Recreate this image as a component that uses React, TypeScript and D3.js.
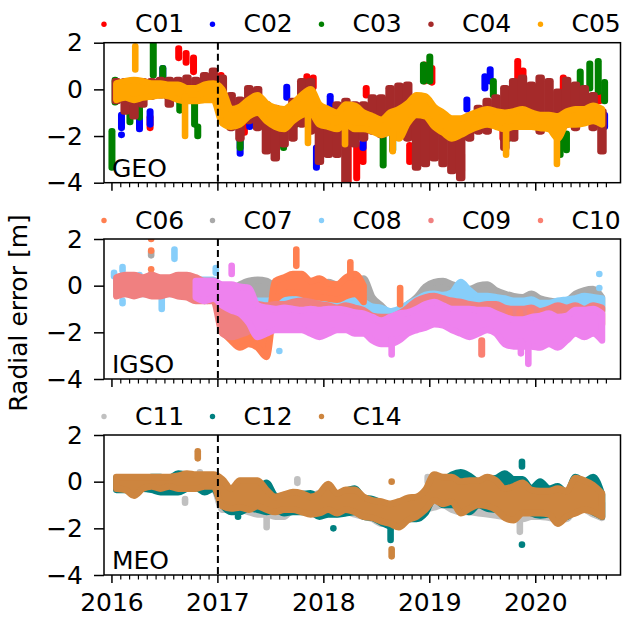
import React from "react";
import * as d3 from "d3";

// monthly bands are [lo, hi] per month starting Jan 2016 (+ start offset)
// extras are [year, lo, hi] clusters / outliers
const years = [2016, 2017, 2018, 2019, 2020];
const yTicks = [-4, -2, 0, 2];
const switchYear = 2017.0;

// ---------- GEO ----------
const c01Extra = [
  [2016.36, -1.65, -1.2], [2016.63, 1.35, 1.75], [2016.7, 1.15, 1.55], [2016.77, 0.75, 1.35],
  [2017.03, 0.2, 0.6], [2017.25, -1.85, -1.4], [2017.84, 0.05, 0.55], [2017.9, 0.1, 0.5],
  [2018.23, -3.95, -2.1], [2018.31, -3.8, -2.35], [2018.37, -3.1, -2.1], [2018.4, -0.25, 0.05],
  [2018.81, -3.1, -2.4], [2018.95, 0.35, 1.05], [2019.02, 0.3, 0.9], [2019.22, -3.25, -2.5],
  [2019.3, -3.5, -2.8], [2019.69, -2.1, -1.8], [2019.83, 0.35, 1.2], [2019.88, 0.0, 0.8],
  [2020.26, 0.05, 0.5], [2020.6, -0.5, -0.25],
];
const c02Extra = [
  [2016.09, -1.65, -1.1], [2016.09, -1.95, -1.95], [2016.26, -1.7, -1.0], [2016.36, -1.5, -0.95],
  [2016.48, 0.55, 0.9], [2016.52, -0.3, 0.1], [2016.96, 0.35, 0.75], [2017.21, -2.75, -1.5],
  [2017.3, -1.6, -1.2], [2017.65, -0.35, 0.1], [2017.93, -3.35, -2.5], [2018.06, -0.8, -0.3],
  [2018.37, -2.5, -2.0], [2019.35, -0.85, -0.45], [2019.52, 0.05, 0.55], [2019.57, 0.35, 0.85],
  [2019.85, -0.2, 0.1], [2020.23, -1.1, -0.8], [2020.65, -1.6, -1.1],
];
const c03Extra = [
  [2016.0, -3.35, -1.8], [2016.03, -0.55, 0.4], [2016.17, -1.4, -0.8], [2016.26, -1.2, -0.6],
  [2016.39, 0.6, 2.0], [2016.48, 0.2, 0.9], [2016.64, -0.9, -0.5], [2016.78, -1.5, -0.65],
  [2016.81, -2.0, -1.6], [2017.21, -2.5, -1.95], [2017.62, -2.5, -1.25], [2017.74, -1.5, -0.8],
  [2018.56, -3.25, -1.5], [2018.65, -2.6, -1.8], [2018.94, 0.35, 1.05], [2019.0, 0.35, 1.4],
  [2019.6, -0.25, 0.35], [2019.75, -2.1, -1.5], [2020.23, -2.8, -1.95], [2020.29, -2.6, -1.9],
  [2020.42, -0.1, 0.75], [2020.51, 0.05, 1.1], [2020.59, -0.1, 1.2], [2020.65, -0.5, 0.3],
];
const c04Band = [
  [-0.5, 0.35], [-0.95, 0.35], [-1.15, 0.25], [-0.65, 0.35], [-0.3, 0.35], [-0.25, 0.4],
  [-0.65, 0.4], [-0.15, 0.4], [-0.25, 0.5], [-0.15, 0.4], [-0.1, 0.6], [-0.1, 0.8],
  [-1.1, 0.5], [-1.65, -0.25], [-2.1, -0.45], [-1.35, 0.05], [-1.65, 0.0], [-2.65, -0.65],
  [-2.95, -0.8], [-2.35, -0.95], [-2.1, -0.5], [-1.5, 0.35], [-1.8, 0.35], [-3.1, -1.25],
  [-2.8, -0.95], [-2.8, -0.65], [-3.95, -0.5], [-2.35, -0.65], [-2.1, -0.65], [-1.8, -0.35],
  [-1.95, -0.35], [-1.5, 0.05], [-1.95, 0.15], [-2.1, 0.2], [-3.35, -0.95], [-3.2, -1.25],
  [-2.95, -1.1], [-3.2, -1.4], [-3.5, -1.5], [-3.8, -1.5], [-2.1, -1.25], [-1.8, -0.8],
  [-1.8, -0.5], [-1.5, -0.35], [-2.5, 0.05], [-2.1, 0.35], [-1.5, 0.5], [-1.35, 0.2],
  [-1.8, 0.5], [-1.35, 0.35], [-1.65, -0.1], [-1.5, 0.4], [-1.65, 0.2], [-1.35, 0.05],
  [-1.65, -0.25], [-2.65, -0.95],
];
const c05Band = [
  [-0.45, 0.25], [-0.35, 0.35], [-0.45, 0.4], [-0.35, 0.35], [-0.3, 0.25], [-0.25, 0.25],
  [-0.3, 0.2], [-0.45, 0.2], [-0.5, 0.05], [-0.5, 0.05], [-0.45, 0.2], [-0.45, 0.25],
  [-1.45, 0.0], [-1.6, -0.85], [-1.5, -0.75], [-1.15, -0.45], [-1.0, -0.25], [-1.35, -0.6],
  [-1.6, -0.8], [-1.7, -0.85], [-1.35, -0.6], [-1.1, -0.25], [-1.0, 0.0], [-1.5, -0.65],
  [-1.6, -0.85], [-1.7, -1.0], [-1.5, -0.65], [-1.7, -0.7], [-1.7, -1.0], [-1.8, -1.15],
  [-1.95, -1.3], [-1.85, -1.0], [-2.1, -0.85], [-1.45, -0.6], [-1.1, -0.25], [-1.15, -0.3],
  [-1.6, -0.75], [-1.85, -1.0], [-2.1, -1.25], [-1.95, -1.25], [-1.75, -1.1], [-1.6, -0.95],
  [-1.5, -0.85], [-1.6, -0.95], [-1.7, -1.0], [-1.6, -0.95], [-1.6, -0.85], [-1.6, -1.0],
  [-1.65, -1.1], [-1.7, -1.1], [-2.1, -1.15], [-1.5, -0.95], [-1.5, -0.85], [-1.45, -0.85],
  [-1.35, -0.7], [-1.5, -0.85],
];
const c05Extra = [
  [2016.22, 0.85, 1.85], [2016.69, -2.0, -0.3], [2017.85, -2.3, -1.0], [2018.2, -2.35, -1.5],
  [2018.65, -2.65, -1.8], [2019.72, -2.8, -1.6], [2020.2, -3.2, -2.0],
];

// ---------- IGSO ----------
const c06Band = [
  [-1.95, -1.05], [-2.35, -1.5], [-2.65, -1.8], [-2.5, -1.95], [-2.65, -1.95], [-3.05, -2.05],
  [-0.65, 0.2], [-0.35, 0.35], [-0.3, 0.5], [-0.35, 0.5], [-0.5, 0.2], [-0.5, 0.3],
  [-0.55, 0.1], [-0.6, 0.05], [-0.45, 0.35], [-0.35, 0.5], [-0.7, 0.0],
];
const c06Extra = [
  [2016.37, 0.7, 0.7], [2016.37, 1.5, 1.5], [2016.37, 2.0, 2.0], [2017.74, 0.85, 1.55],
  [2018.25, 0.35, 1.0], [2018.72, -0.8, -0.1],
];
const c07Band = [
  [-0.3, 0.15], [-0.3, 0.15], [-0.3, 0.15], [-0.3, 0.15], [-0.3, 0.15], [-0.3, 0.15],
  [-0.3, 0.15], [-0.3, 0.15], [-0.35, 0.15], [-0.5, 0.1], [-0.65, 0.1], [-0.5, 0.1],
  [-0.65, -0.05], [-0.7, -0.15], [-0.65, 0.05], [-0.5, 0.2], [-0.5, 0.25], [-0.65, 0.2],
  [-0.95, -0.05], [-0.95, -0.3], [-1.0, -0.35], [-0.95, -0.2], [-0.85, -0.15], [-0.85, -0.05],
  [-0.65, 0.15], [-0.8, 0.05], [-0.8, 0.05], [-0.65, 0.2], [-0.65, 0.3], [-1.2, -0.5],
  [-1.5, -0.85], [-1.65, -1.15], [-1.6, -1.05], [-1.35, -0.8], [-1.1, -0.5], [-0.8, -0.05],
  [-0.65, 0.15], [-0.55, 0.2], [-0.65, 0.05], [-0.7, -0.05], [-0.8, -0.15], [-0.65, 0.0],
  [-0.65, 0.05], [-0.8, -0.2], [-0.95, -0.35], [-1.05, -0.45], [-1.15, -0.5], [-0.95, -0.35],
  [-1.15, -0.55], [-1.2, -0.65], [-1.3, -0.7], [-1.2, -0.65], [-1.05, -0.35], [-0.85, -0.2],
  [-0.85, -0.15], [-1.05, -0.5],
];
const c07Extra = [[2016.37, 1.3, 1.45], [2016.37, 0.35, 0.5], [2016.9, -0.65, -0.3]];
const c08Band = [
  [-0.35, 0.25], [-0.35, 0.25], [-0.35, 0.25], [-0.35, 0.25], [-0.35, 0.25], [-0.35, 0.25],
  [-0.35, 0.25], [-0.35, 0.25], [-0.35, 0.25], [-0.35, 0.25], [-0.35, 0.25], [-0.35, 0.25],
  [-1.0, -0.3], [-1.1, -0.4], [-1.1, -0.4], [-1.2, -0.6], [-1.2, -0.65], [-1.25, -0.65],
  [-1.2, -0.6], [-1.2, -0.6], [-1.1, -0.6], [-1.0, -0.5], [-1.0, -0.5], [-1.1, -0.55],
  [-1.1, -0.5], [-1.2, -0.6], [-1.2, -0.6], [-1.15, -0.6], [-1.25, -0.7], [-1.45, -0.9],
  [-1.65, -0.95], [-1.7, -1.1], [-1.6, -1.0], [-1.4, -0.8], [-1.2, -0.6], [-1.0, -0.4],
  [-0.9, -0.35], [-0.9, -0.4], [-0.9, -0.3], [-0.85, 0.15], [-0.9, -0.2], [-0.95, -0.45],
  [-0.9, -0.45], [-0.95, -0.5], [-1.1, -0.55], [-1.2, -0.65], [-1.1, -0.65], [-1.1, -0.6],
  [-1.2, -0.75], [-1.2, -0.75], [-1.2, -0.65], [-1.15, -0.6], [-1.1, -0.55], [-1.0, -0.45],
  [-1.0, -0.5], [-1.1, -0.55],
];
const c08Extra = [
  [2016.02, 0.4, 0.55], [2016.1, 0.65, 0.8], [2016.1, -0.75, -0.65], [2016.26, 0.3, 0.45],
  [2016.47, -1.0, -0.55], [2016.59, 1.15, 1.55], [2016.98, 0.55, 0.75], [2017.58, -2.8, -2.8],
  [2018.47, -2.2, -2.2], [2020.6, 0.5, 0.5], [2020.6, -0.1, -0.1],
];
const c09Band = [
  [-0.45, 0.35], [-0.35, 0.45], [-0.45, 0.45], [-0.35, 0.35], [-0.45, 0.45], [-0.45, 0.35],
  [-0.35, 0.35], [-0.45, 0.45], [-0.5, 0.45], [-0.65, 0.35], [-0.65, 0.2], [-0.65, 0.2],
  [-2.05, -0.5], [-2.2, -0.65], [-2.1, -0.8], [-1.95, -0.85], [-1.65, -0.8], [-1.6, -0.85],
  [-1.5, -0.8], [-1.45, -0.8], [-1.45, -0.7], [-1.3, -0.65], [-1.35, -0.7], [-1.45, -0.8],
  [-1.6, -0.85], [-1.65, -0.95], [-1.5, -0.85], [-1.65, -0.95], [-1.8, -1.05], [-2.05, -1.3],
  [-2.2, -1.35], [-2.35, -1.35], [-1.95, -1.2], [-1.65, -0.95], [-1.5, -0.65], [-1.35, -0.5],
  [-1.3, -0.45], [-1.35, -0.55], [-1.45, -0.65], [-1.55, -0.7], [-1.5, -0.8], [-1.55, -0.85],
  [-1.5, -0.8], [-1.65, -0.8], [-1.95, -0.95], [-2.05, -1.0], [-1.85, -1.0], [-1.8, -0.95],
  [-1.9, -1.1], [-1.85, -1.0], [-1.8, -0.85], [-2.05, -0.95], [-1.65, -0.85], [-1.9, -1.0],
  [-1.6, -0.85], [-1.65, -0.95],
];
const c10Extra = [
  [2019.49, -2.95, -2.35], [2019.75, -1.8, -1.1], [2019.85, -1.9, -1.15], [2019.95, -1.85, -1.1],
  [2020.05, -1.9, -1.2],
];
const c13Band = [
  [-0.5, 0.2], [-0.65, 0.2], [-0.55, 0.2], [-0.85, 0.05], [-1.05, 0.05], [-1.2, -0.05],
  [-1.6, -0.1], [-2.2, -0.85], [-2.05, -0.95], [-1.9, -1.0], [-1.9, -0.95], [-1.9, -1.0],
  [-1.9, -1.05], [-2.05, -1.0], [-2.2, -1.05], [-2.05, -1.0], [-1.9, -1.0], [-1.9, -1.05],
  [-2.05, -1.15], [-2.05, -1.2], [-2.35, -1.35], [-2.5, -1.5], [-2.5, -1.35], [-2.35, -1.2],
  [-2.05, -1.15], [-1.9, -1.0], [-1.8, -0.8], [-1.65, -0.7], [-1.7, -0.85], [-1.9, -1.0],
  [-2.05, -1.0], [-2.2, -1.0], [-2.05, -1.05], [-1.9, -1.05], [-2.05, -1.2], [-2.5, -1.35],
  [-2.6, -1.45], [-2.6, -1.45], [-2.6, -1.35], [-2.65, -1.3], [-2.5, -1.2], [-2.65, -1.35],
  [-2.35, -1.3], [-2.05, -1.05], [-2.2, -1.05], [-2.05, -1.0], [-2.35, -1.2],
];
const c13Extra = [[2017.13, 0.5, 0.85], [2018.64, -2.95, -2.3], [2019.93, -3.35, -2.5], [2019.86, -2.9, -2.4]];

// ---------- MEO ----------
const c11Band = [
  [-0.3, 0.1], [-0.3, 0.1], [-0.3, 0.1], [-0.3, 0.1], [-0.3, 0.1], [-0.3, 0.1],
  [-0.3, 0.1], [-0.3, 0.1], [-0.3, 0.1], [-0.3, 0.1], [-0.3, 0.1], [-0.3, 0.1],
  [-1.2, -0.3], [-1.2, -0.5], [-1.2, -0.5], [-1.3, -0.6], [-1.4, -0.8], [-1.4, -0.9],
  [-1.5, -0.8], [-1.5, -0.8], [-1.2, -0.5], [-1.2, -0.5], [-1.3, -0.6], [-1.3, -0.5],
  [-1.3, -0.5], [-1.4, -0.6], [-1.3, -0.6], [-1.4, -0.6], [-1.5, -0.7], [-1.6, -0.8],
  [-1.8, -1.0], [-1.8, -1.0], [-1.8, -1.0], [-1.5, -0.8], [-1.4, -0.7], [-1.2, -0.6],
  [-1.1, -0.5], [-1.0, -0.3], [-1.2, -0.4], [-1.3, -0.5], [-1.3, -0.5], [-1.35, -0.5],
  [-1.4, -0.6], [-1.45, -0.7], [-1.5, -0.8], [-1.6, -1.0], [-1.6, -0.9], [-1.5, -0.8],
  [-1.5, -0.8], [-1.55, -0.9], [-1.6, -0.9], [-1.6, -0.9], [-1.2, -0.6], [-1.2, -0.5],
  [-1.4, -0.7], [-1.55, -0.9],
];
const c11Extra = [
  [2016.69, -0.9, -0.75], [2016.83, 0.3, 0.4], [2017.46, -1.95, -1.3], [2017.75, -0.05, 0.1],
  [2018.98, 0.0, 0.2], [2019.85, -2.15, -1.5],
];
const c12Band = [
  [-0.35, 0.15], [-0.35, 0.15], [-0.4, 0.1], [-0.3, 0.1], [-0.35, 0.2], [-0.45, 0.2],
  [-0.45, 0.15], [-0.45, 0.35], [-0.3, 0.3], [-0.25, 0.25], [-0.45, 0.15], [-0.3, 0.25],
  [-1.0, 0.0], [-1.3, -0.5], [-1.3, -0.4], [-1.15, -0.3], [-1.2, -0.4], [-1.3, -0.05],
  [-1.2, -0.6], [-1.35, -0.7], [-1.3, -0.6], [-1.3, -0.55], [-1.3, -0.5], [-1.5, -0.7],
  [-1.4, -0.6], [-1.4, -0.6], [-1.35, -0.4], [-1.3, -0.3], [-1.5, -0.7], [-1.55, -0.75],
  [-1.75, -0.9], [-1.9, -1.0], [-1.7, -0.9], [-1.6, -0.75], [-1.6, -0.9], [-1.35, -0.5],
  [-0.7, 0.0], [-1.0, 0.05], [-1.0, 0.3], [-1.1, 0.4], [-1.3, 0.25], [-1.0, 0.0],
  [-1.15, 0.1], [-1.2, 0.15], [-1.4, 0.35], [-1.0, 0.1], [-0.95, 0.1], [-1.35, -0.3],
  [-1.45, 0.0], [-1.4, -0.3], [-1.35, -0.2], [-1.5, -0.5], [-1.2, 0.2], [-1.1, 0.0],
  [-1.3, 0.2], [-1.5, -0.55],
];
const c12Extra = [
  [2017.19, -1.5, -1.5], [2018.09, -2.0, -2.0], [2018.63, -2.5, -1.9], [2019.87, 0.65, 0.85],
  [2019.87, 0.0, 0.0], [2019.87, -2.7, -2.7],
];
const c14Band = [
  [-0.3, 0.2], [-0.35, 0.2], [-0.6, 0.2], [-0.3, 0.2], [-0.2, 0.2], [-0.3, 0.2],
  [-0.2, 0.2], [-0.3, 0.25], [-0.3, 0.35], [-0.3, 0.3], [-0.2, 0.3], [-0.2, 0.3],
  [-1.05, 0.1], [-1.15, -0.3], [-1.1, 0.05], [-1.2, 0.05], [-1.05, 0.05], [-1.2, -0.35],
  [-1.3, -0.65], [-1.2, -0.55], [-1.2, -0.45], [-1.3, -0.5], [-1.4, -0.65], [-1.35, -0.5],
  [-1.2, -0.1], [-1.35, -0.5], [-1.2, -0.35], [-1.3, -0.35], [-1.5, -0.65], [-1.55, -0.8],
  [-1.7, -0.85], [-1.8, -0.95], [-1.95, -0.85], [-1.65, -0.7], [-1.5, -0.65], [-1.2, -0.35],
  [-0.8, 0.3], [-0.95, 0.2], [-0.85, 0.2], [-1.35, 0.0], [-1.15, 0.05], [-1.0, 0.05],
  [-1.05, 0.2], [-1.2, 0.05], [-1.55, -0.3], [-1.65, -0.2], [-1.35, -0.05], [-1.35, -0.35],
  [-1.35, -0.4], [-1.4, -0.4], [-1.8, -0.3], [-1.5, -0.4], [-1.35, 0.15], [-1.2, 0.05],
  [-1.3, -0.15], [-1.5, -0.5],
];
const c14Extra = [[2016.81, 1.0, 1.3], [2018.64, 0.0, 0.0], [2018.64, -3.2, -2.9]];

// style: "ribbon" draws the monthly band as a filled area, "streak" as capsules
const panels = [
  {
    label: "GEO",
    series: [
      { name: "C01", color: "#ff0000", start: 0, band: [], extra: c01Extra, style: "streak" },
      { name: "C02", color: "#0000ff", start: 0, band: [], extra: c02Extra, style: "streak" },
      { name: "C03", color: "#008000", start: 0, band: [], extra: c03Extra, style: "streak" },
      { name: "C04", color: "#a52a2a", start: 0, band: c04Band, extra: [], style: "streak" },
      { name: "C05", color: "#ffa500", start: 0, band: c05Band, extra: c05Extra, style: "ribbon" },
    ],
  },
  {
    label: "IGSO",
    series: [
      { name: "C07", color: "#a9a9a9", start: 0, band: c07Band, extra: c07Extra, style: "ribbon" },
      { name: "C08", color: "#87cefa", start: 0, band: c08Band, extra: c08Extra, style: "ribbon" },
      { name: "C06", color: "#ff7f50", start: 12, band: c06Band, extra: c06Extra, style: "ribbon" },
      { name: "C09", color: "#f08080", start: 0, band: c09Band, extra: [], style: "ribbon" },
      { name: "C10", color: "#fa8072", start: 0, band: [], extra: c10Extra, style: "streak" },
      { name: "C13", color: "#ee82ee", start: 9, band: c13Band, extra: c13Extra, style: "ribbon" },
    ],
  },
  {
    label: "MEO",
    series: [
      { name: "C11", color: "#c0c0c0", start: 0, band: c11Band, extra: c11Extra, style: "ribbon" },
      { name: "C12", color: "#008080", start: 0, band: c12Band, extra: c12Extra, style: "ribbon" },
      { name: "C14", color: "#cd853f", start: 0, band: c14Band, extra: c14Extra, style: "ribbon" },
    ],
  },
];
const legendOrder = [
  ["C01", "C02", "C03", "C04", "C05"],
  ["C06", "C07", "C08", "C09", "C10"],
  ["C11", "C12", "C14"],
];

const fmtTick = (d) => (d < 0 ? "\u2212" + Math.abs(d) : String(d));

export default function App() {
  const svgRef = React.useRef(null);

  React.useEffect(() => {
    const width = 623;
    const height = 617;
    const font = "DejaVu Sans, sans-serif";
    const svg = d3.select(svgRef.current).attr("width", width).attr("height", height);
    svg.selectAll("*").remove();

    const x = d3.scaleLinear().domain([2015.925, 2020.8]).range([104, 620.5]);
    const panelTops = [42.7, 239, 435];
    const H = 140;
    const R = 3.3;
    const legendX = [104, 212.5, 321.5, 431, 540.5];

    panels.forEach((p, pi) => {
      const top = panelTops[pi];
      const y = d3.scaleLinear().domain([-4, 2]).range([top + H, top]);
      const g = svg.append("g");

      g.append("clipPath")
        .attr("id", `clip${pi}`)
        .append("rect")
        .attr("x", 104)
        .attr("y", top)
        .attr("width", 620.5 - 104)
        .attr("height", H);

      const marks = g.append("g").attr("clip-path", `url(#clip${pi})`);
      p.series.forEach((s) => {
        const monthly = s.band.map((d, i) => [2016 + (s.start + i + 0.5) / 12, d[0], d[1]]);
        const capsules = (list, w) =>
          marks
            .selectAll(null)
            .data(list)
            .enter()
            .append("rect")
            .attr("x", (d) => x(d[0]) - w / 2)
            .attr("y", (d) => y(d[2]) - R)
            .attr("width", w)
            .attr("height", (d) => y(d[1]) - y(d[2]) + 2 * R)
            .attr("rx", R)
            .attr("fill", s.color);

        if (s.style === "ribbon" && monthly.length) {
          const area = d3
            .area()
            .x((d) => x(d[0]))
            .y0((d) => y(d[1]))
            .y1((d) => y(d[2]))
            .curve(d3.curveMonotoneX);
          marks
            .append("path")
            .attr("d", area(monthly))
            .attr("fill", s.color)
            .attr("stroke", s.color)
            .attr("stroke-width", 2 * R)
            .attr("stroke-linejoin", "round");
          capsules(s.extra, 2 * R);
        } else {
          capsules(monthly, 9.5);
          capsules(s.extra, 7);
        }
      });

      // dashed switch line
      g.append("line")
        .attr("x1", x(switchYear))
        .attr("x2", x(switchYear))
        .attr("y1", top)
        .attr("y2", top + H)
        .attr("stroke", "#000")
        .attr("stroke-width", 2)
        .attr("stroke-dasharray", "7,4");

      // y axis
      const yAxis = d3.axisLeft(y).tickValues(yTicks).tickSize(10).tickPadding(11).tickFormat(fmtTick);
      const ya = g.append("g").attr("transform", "translate(104,0)").call(yAxis);
      ya.select(".domain").remove();
      ya.selectAll("line").attr("stroke-width", 1.5);
      ya.selectAll("text").attr("font-size", 25).attr("font-family", font).attr("fill", "#000");

      // x ticks: monthly minor, yearly major
      const minor = d3
        .range(0, 57)
        .map((m) => 2016 + m / 12)
        .filter((t) => Math.abs(t - Math.round(t)) > 0.01);
      g.selectAll(null)
        .data(minor)
        .enter()
        .append("line")
        .attr("x1", (d) => x(d))
        .attr("x2", (d) => x(d))
        .attr("y1", top + H)
        .attr("y2", top + H + 4.5)
        .attr("stroke", "#000")
        .attr("stroke-width", 1.2);
      g.selectAll(null)
        .data(years)
        .enter()
        .append("line")
        .attr("x1", (d) => x(d))
        .attr("x2", (d) => x(d))
        .attr("y1", top + H)
        .attr("y2", top + H + 8)
        .attr("stroke", "#000")
        .attr("stroke-width", 1.5);

      if (pi === panels.length - 1) {
        g.selectAll(null)
          .data(years)
          .enter()
          .append("text")
          .attr("x", (d) => x(d))
          .attr("y", 611)
          .attr("text-anchor", "middle")
          .attr("font-size", 25)
          .attr("font-family", font)
          .text((d) => d);
      }

      // frame
      g.append("rect")
        .attr("x", 104)
        .attr("y", top)
        .attr("width", 620.5 - 104)
        .attr("height", H)
        .attr("fill", "none")
        .attr("stroke", "#000")
        .attr("stroke-width", 1.5);

      // panel label
      g.append("text")
        .attr("x", 112)
        .attr("y", top + H - 6)
        .attr("font-size", 25)
        .attr("font-family", font)
        .text(p.label);

      // legend
      legendOrder[pi].forEach((name, li) => {
        const s = p.series.find((d) => d.name === name);
        const lx = legendX[li];
        g.append("circle")
          .attr("cx", lx)
          .attr("cy", top - 18.5)
          .attr("r", 2.7)
          .attr("fill", s.color);
        g.append("text")
          .attr("x", lx + 31)
          .attr("y", top - 10.5)
          .attr("font-size", 25)
          .attr("font-family", font)
          .text(name);
      });
    });

    svg
      .append("text")
      .attr("transform", "translate(27,313) rotate(-90)")
      .attr("text-anchor", "middle")
      .attr("font-size", 25)
      .attr("font-family", font)
      .text("Radial error [m]");
  }, []);

  return (
    <svg ref={svgRef} style={{ position: "absolute", left: 0, top: 0, background: "#fff" }} />
  );
}
